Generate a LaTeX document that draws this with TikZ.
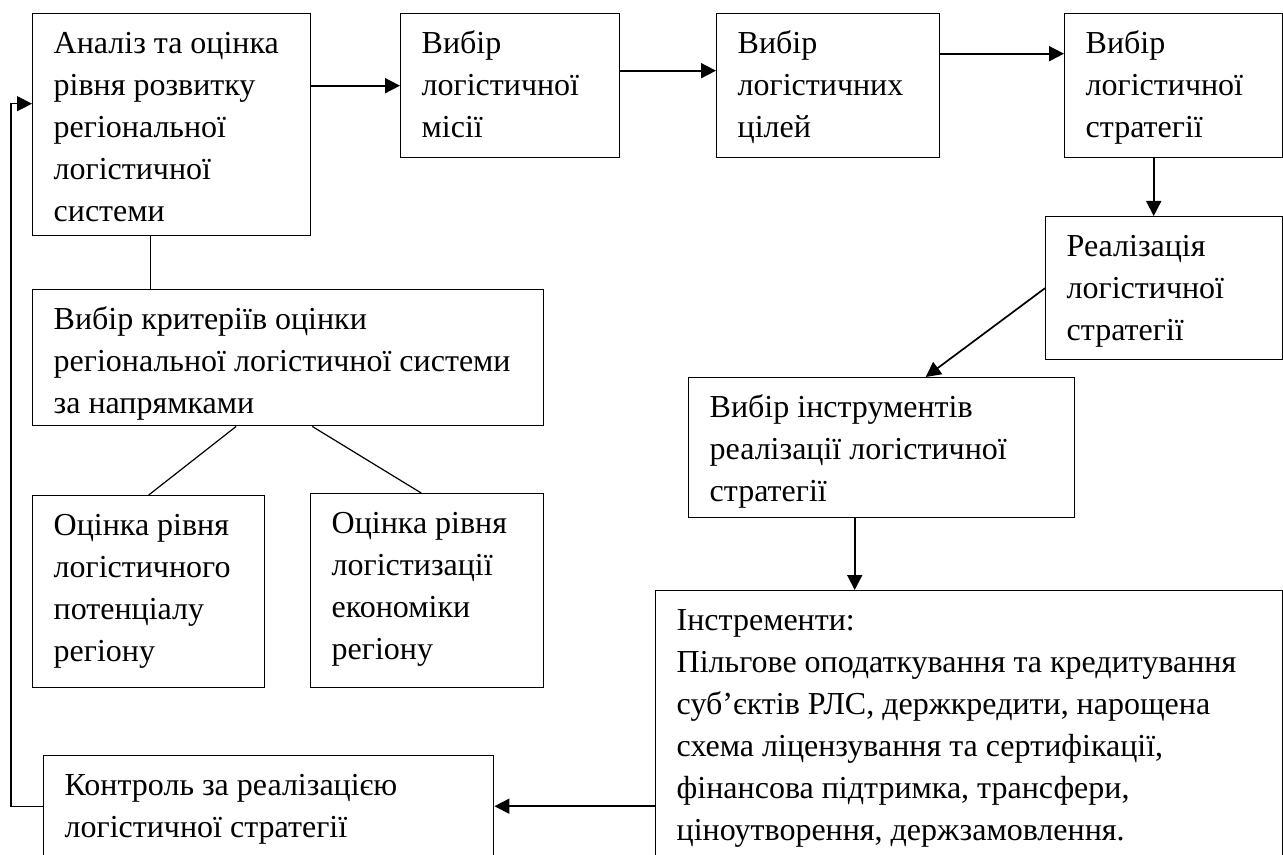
\documentclass[tikz,border=0pt]{standalone}
\usepackage{fontspec}
\setmainfont{Liberation Serif}
\usetikzlibrary{arrows.meta}
\tikzset{
	blok/.style={draw, line width=0.7pt, anchor=north west, inner xsep=10.5pt, inner ysep=0pt, font=\fontsize{16pt}{21pt}\selectfont},
	pijl/.style={-{Triangle[length=7.5pt,width=7.5pt]}, line width=0.85pt},
	lijn/.style={line width=0.6pt}
}
\newcommand{\vmist}[3]{\parbox[c][#2][t]{#1}{\raggedright\rule{0pt}{20pt}#3}}

\begin{document}
\begin{tikzpicture}[x=0.5pt,y=-0.5pt]
			\useasboundingbox (0,0) rectangle (1283,855);
			% boxes
			\node[blok] (analiz) at (32,13) {\vmist{118pt}{111pt}{Аналіз та оцінка\\рівня розвитку\\регіональної\\логістичної\\системи}};
			\node[blok] (misiya) at (400,13) {\vmist{88.5pt}{72pt}{Вибір\\логістичної\\місії}};
			\node[blok] (cili) at (716,13) {\vmist{90.5pt}{72pt}{Вибір\\логістичних\\цілей}};
			\node[blok] (stratehiya) at (1064,13) {\vmist{88pt}{72pt}{Вибір\\логістичної\\стратегії}};
			\node[blok] (realizaciya) at (1045,216) {\vmist{97.5pt}{71.5pt}{Реалізація\\логістичної\\стратегії}};
			\node[blok] (instrumenty) at (688,377) {\vmist{172pt}{70pt}{Вибір інструментів\\реалізації логістичної\\стратегії}};
			\node[blok] (perelik) at (655,590) {\vmist{292.5pt}{136pt}{Інстременти:\\Пільгове оподаткування та кредитування\\суб’єктів РЛС, держкредити, нарощена\\схема ліцензування та сертифікації,\\фінансова підтримка, трансфери,\\ціноутворення, держзамовлення.}};
			\node[blok] (kontrol) at (43,755) {\vmist{204pt}{50.5pt}{Контроль за реалізацією\\логістичної стратегії}};
			\node[blok] (kryterii) at (32,289) {\vmist{234.5pt}{68pt}{Вибір критеріїв оцінки\\регіональної логістичної системи\\за напрямками}};
			\node[blok] (potencial) at (32,495) {\vmist{95pt}{96pt}{Оцінка рівня\\логістичного\\потенціалу\\регіону}};
			\node[blok] (ekonomika) at (310,493) {\vmist{95.5pt}{97pt}{Оцінка рівня\\логістизації\\економіки\\регіону}};
			% arrows
			\draw[pijl] (analiz.east |- misiya.west) -- (misiya.west);
			\draw[pijl] ([yshift=7.5pt]misiya.east) -- ([yshift=7.5pt]cili.west);
			\draw[pijl] ([yshift=16pt]cili.east) -- ([yshift=16pt]stratehiya.west);
			\draw[pijl] ([xshift=-10pt]stratehiya.south) -- ([xshift=-10pt]stratehiya.south |- realizaciya.north);
			\draw[pijl] (realizaciya.west) -- ([xshift=22pt]instrumenty.north);
			\draw[pijl] ([xshift=-13.5pt]instrumenty.south) -- ([xshift=-13.5pt]instrumenty.south |- perelik.north);
			\draw[pijl] (perelik.west |- kontrol.east) -- (kontrol.east);
			\draw[pijl, line width=0.6pt] (kontrol.west) -- ++(-32,0) |- ([yshift=10.5pt]analiz.west);
			% plain lines
			\draw[lijn] ([xshift=-10.5pt]analiz.south) -- ([xshift=-10.5pt]analiz.south |- kryterii.north);
			\draw[lijn] ([xshift=-26pt]kryterii.south) -- (potencial.north);
			\draw[lijn] ([xshift=12pt]kryterii.south) -- ([xshift=-3pt]ekonomika.north);
		\end{tikzpicture}
\end{document}
